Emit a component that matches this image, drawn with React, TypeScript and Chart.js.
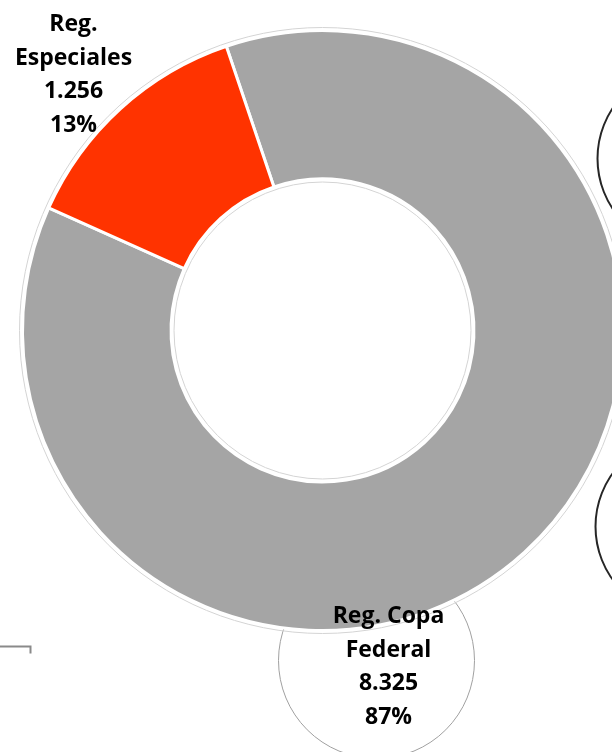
import React, { useEffect, useRef } from "react";
import { Chart, registerables } from "chart.js";

Chart.register(...registerables);

const categories = ["Reg. Copa Federal", "Reg. Especiales"];
const values = [8325, 1256];
const valueLabels = ["8.325", "1.256"];
const percentLabels = ["87%", "13%"];
const colors = ["#A5A5A5", "#FF3300"];

const labelLines = [
  ["Reg. Copa", "Federal", valueLabels[0], percentLabels[0]],
  ["Reg.", "Especiales", valueLabels[1], percentLabels[1]],
];

const FONT = "bold 23px 'Open Sans'";

const decorPlugin = {
  id: "decor",
  beforeDatasetsDraw(chart: any) {
    const ctx = chart.ctx;
    const arc = chart.getDatasetMeta(0).data[0];
    if (!arc) return;
    const { x: cx, y: cy } = arc;
    ctx.save();
    // callout circle behind Copa label
    ctx.beginPath();
    ctx.strokeStyle = "#A0A0A0";
    ctx.lineWidth = 1;
    ctx.arc(cx + 54, cy + 330, 98, 0, Math.PI * 2);
    ctx.stroke();
    // other callout circles at right
    ctx.strokeStyle = "#262626";
    ctx.lineWidth = 2;
    ctx.beginPath();
    ctx.arc(cx + 366, cy - 172, 91, 0, Math.PI * 2);
    ctx.stroke();
    ctx.beginPath();
    ctx.arc(cx + 364, cy + 196, 91, 0, Math.PI * 2);
    ctx.stroke();
    // bracket bottom-left
    ctx.strokeStyle = "#8A8A8A";
    ctx.lineWidth = 2;
    ctx.beginPath();
    ctx.moveTo(0, cy + 316);
    ctx.lineTo(cx - 292, cy + 316);
    ctx.lineTo(cx - 292, cy + 323);
    ctx.stroke();
    ctx.restore();
  },
  afterDatasetsDraw(chart: any) {
    const ctx = chart.ctx;
    const arc = chart.getDatasetMeta(0).data[0];
    if (!arc) return;
    const { x: cx, y: cy, outerRadius, innerRadius } = arc;
    ctx.save();
    ctx.strokeStyle = "#D4D4D4";
    ctx.lineWidth = 1;
    ctx.beginPath();
    ctx.arc(cx, cy, outerRadius + 3, 0, Math.PI * 2);
    ctx.stroke();
    ctx.beginPath();
    ctx.arc(cx, cy, innerRadius - 3, 0, Math.PI * 2);
    ctx.stroke();

    ctx.fillStyle = "#000000";
    ctx.font = FONT;
    ctx.textAlign = "center";
    ctx.textBaseline = "alphabetic";
    const anchors = [
      { x: cx + 66, y: cy + 292.5 },
      { x: cx - 249, y: cy - 299.5 },
    ];
    labelLines.forEach((lines, i) => {
      lines.forEach((t, j) => {
        ctx.fillText(t, anchors[i].x, anchors[i].y + j * 33.5);
      });
    });
    ctx.restore();
  },
};

export default function App() {
  const ref = useRef<HTMLCanvasElement | null>(null);
  useEffect(() => {
    if (!ref.current) return;
    const chart = new Chart(ref.current, {
      type: "doughnut",
      data: {
        labels: categories,
        datasets: [
          {
            data: values,
            backgroundColor: colors,
            borderColor: "#FFFFFF",
            borderWidth: 3,
            hoverBorderWidth: 3,
          },
        ],
      },
      options: {
        responsive: false,
        animation: false,
        cutout: "50.5%",
        rotation: -18.7,
        layout: { padding: { left: 21, top: 29, right: 36, bottom: 128 } },
        plugins: {
          legend: { display: false },
          tooltip: { enabled: false },
        },
        events: [],
      },
      plugins: [decorPlugin],
    });
    return () => chart.destroy();
  }, []);
  return (
    <div
      style={{
        position: "fixed",
        left: 0,
        top: 0,
        width: 612,
        height: 752,
        overflow: "hidden",
        background: "#ffffff",
      }}
    >
      <canvas ref={ref} width={660} height={760} style={{ display: "block" }} />
    </div>
  );
}
